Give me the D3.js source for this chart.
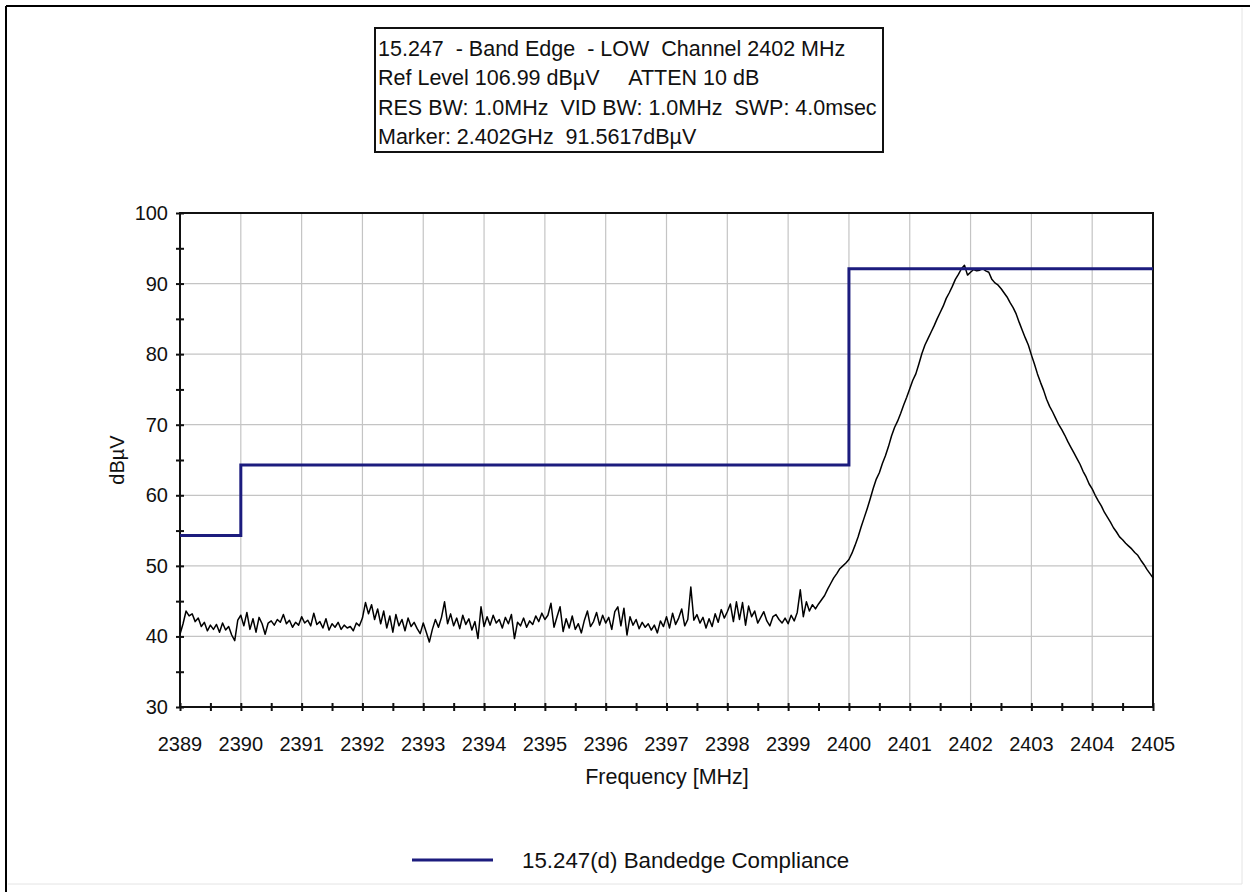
<!DOCTYPE html>
<html>
<head>
<meta charset="utf-8">
<script src="https://cdn.jsdelivr.net/npm/d3@7/dist/d3.min.js"></script>
<style>
  html, body { margin: 0; padding: 0; background: #fff; }
  svg { display: block; font-family: "Liberation Sans", Arial, sans-serif; }
</style>
</head>
<body>
<svg id="chart" width="1250" height="892"></svg>
<script>
// Analyzer header lines
const headerLines = [
  "15.247  - Band Edge  - LOW  Channel 2402 MHz",
  "Ref Level 106.99 dBµV     ATTEN 10 dB",
  "RES BW: 1.0MHz  VID BW: 1.0MHz  SWP: 4.0msec",
  "Marker: 2.402GHz  91.5617dBµV"
];

// Axis ticks
const xTicks = [2389, 2390, 2391, 2392, 2393, 2394, 2395, 2396, 2397, 2398, 2399, 2400, 2401, 2402, 2403, 2404, 2405];
const yTicks = [30, 40, 50, 60, 70, 80, 90, 100];

// Band-edge limit: [start MHz, end MHz, level dBµV]
const limitSegments = [
  [2389, 2390, 54.3],
  [2390, 2400, 64.3],
  [2400, 2405, 92.1]
];

// Sweep from 2389 to 2405 MHz, 321 evenly spaced points (dBµV)
const sweepStart = 2389;
const sweepStop = 2405;
const sweepLevels = [
  40.3, 41.8, 43.6, 42.9, 43.2, 42.1, 42.6, 41.4, 42.0, 40.8, 41.6, 41.0, 41.7, 40.6, 41.9, 40.9, 41.4, 40.2, 39.4, 42.3,
  43.0, 41.5, 43.4, 41.0, 42.5, 40.6, 42.7, 41.8, 40.3, 41.9, 42.2, 41.6, 42.4, 42.0, 43.1, 41.8, 42.3, 41.3, 42.0, 41.6,
  42.8, 41.9, 42.3, 41.5, 43.3, 41.7, 42.1, 41.2, 42.5, 40.9, 41.8, 41.3, 42.0, 41.0, 41.6, 41.2, 41.4, 40.8, 41.9, 41.5,
  42.6, 44.8, 43.2, 44.5, 42.4, 43.9, 41.8, 43.6, 41.2, 42.9, 40.6, 43.1, 41.5, 42.4, 40.8, 42.6, 41.4, 42.0, 41.1, 40.4,
  41.9, 40.6, 39.2, 41.0, 42.4, 41.3, 42.7, 44.9, 41.8, 43.2, 41.5, 42.6, 41.1, 43.0, 41.7, 42.5, 40.9, 42.1, 39.7, 44.2,
  41.4, 42.8, 41.6, 43.0, 41.9, 42.4, 41.2, 42.7, 41.8, 43.1, 39.7, 42.0, 41.5, 42.6, 41.3, 42.2, 41.7, 42.9, 42.1, 43.3,
  42.4, 43.0, 44.7, 41.3, 42.8, 44.2, 40.7, 42.5, 41.2, 42.9, 41.0, 41.8, 40.5, 42.3, 43.6, 41.4, 42.1, 43.4, 41.6, 43.0,
  41.9, 42.7, 41.0, 43.5, 44.2, 41.5, 44.0, 40.2, 42.8, 41.6, 42.4, 41.1, 42.0, 41.3, 41.8, 40.9, 41.6, 40.5, 42.2, 41.4,
  42.8, 41.2, 43.3, 41.7, 42.6, 43.9, 41.5, 42.4, 47.0, 42.3, 43.1, 41.9, 42.7, 41.2, 42.5, 41.4, 43.2, 42.0, 43.8, 42.6,
  43.5, 44.6, 42.1, 44.9, 42.4, 44.8, 41.6, 44.3, 42.8, 43.6, 41.9, 42.7, 43.5, 42.2, 41.5, 42.8, 43.1, 42.4, 41.9, 42.6,
  41.8, 43.0, 42.2, 43.4, 46.6, 42.8, 44.9, 43.6, 44.5, 43.9, 44.6,
  45.2, 45.8, 46.7, 47.5, 48.3, 48.9, 49.6, 50.0, 50.4,
  50.9, 51.8, 52.9, 54.1, 55.5, 56.8, 58.1, 59.5, 61.0, 62.3, 63.2, 64.5, 65.6, 66.9, 68.4, 69.6, 70.5, 71.6, 72.8, 73.9,
  75.1, 76.3, 77.2, 78.6, 80.1, 81.3, 82.2, 83.1, 84.0, 85.0, 85.9, 86.8, 87.9, 88.7, 89.6, 90.6, 91.3, 92.1, 92.6, 91.2,
  91.6, 92.0, 91.8, 91.9, 92.1, 91.8, 91.6, 90.6, 90.1, 89.8, 89.3, 88.7, 88.1, 87.3, 86.6, 85.7, 84.5, 83.4, 82.3, 81.3,
  79.9, 78.6, 77.2, 76.0, 74.9, 73.6, 72.6, 71.8, 70.9, 70.0, 69.3, 68.5, 67.6, 66.8, 66.0, 65.2, 64.4, 63.4, 62.6, 61.6,
  60.9, 60.0, 59.2, 58.5, 57.6, 56.9, 56.2, 55.4, 54.8, 54.1, 53.7, 53.2, 52.8, 52.4, 51.9, 51.5, 50.8, 50.2, 49.5, 48.9,
  48.3
];

const legendLabel = "15.247(d) Bandedge Compliance";
const xTitle = "Frequency [MHz]";
const yTitle = "dBµV";

const limitColor = "#1c1c7e";
const textColor = "#111";

const svg = d3.select("#chart");

// Window frame: dark top/left edges, light bottom/right edges
svg.append("line").attr("x1", 6).attr("y1", 6).attr("x2", 1250).attr("y2", 6)
  .attr("stroke", "#000").attr("stroke-width", 2);
svg.append("line").attr("x1", 6).attr("y1", 6).attr("x2", 6).attr("y2", 892)
  .attr("stroke", "#000").attr("stroke-width", 2);
svg.append("line").attr("x1", 1242).attr("y1", 8).attr("x2", 1242).attr("y2", 884)
  .attr("stroke", "#e4e4e4").attr("stroke-width", 1);
svg.append("line").attr("x1", 8).attr("y1", 884).attr("x2", 1242).attr("y2", 884)
  .attr("stroke", "#e4e4e4").attr("stroke-width", 1);

// Header box
const box = { x: 375, y: 28, w: 508, h: 124 };
svg.append("rect").attr("x", box.x).attr("y", box.y).attr("width", box.w).attr("height", box.h)
  .attr("fill", "#fff").attr("stroke", "#111").attr("stroke-width", 2);
svg.append("g").selectAll("text").data(headerLines).join("text")
  .attr("x", box.x + 3)
  .attr("y", (d, i) => box.y + 28 + i * 29.3)
  .attr("font-size", 21.5)
  .attr("fill", textColor)
  .style("white-space", "pre")
  .attr("xml:space", "preserve")
  .text(d => d);

// Plot area
const plot = { left: 180, right: 1153, top: 213, bottom: 707 };

const x = d3.scaleLinear().domain([sweepStart, sweepStop]).range([plot.left, plot.right]);
const y = d3.scaleLinear().domain([30, 100]).range([plot.bottom, plot.top]);

// Grid
const grid = svg.append("g").attr("stroke", "#c4c4c4").attr("stroke-width", 1.2);
grid.selectAll(".gx").data(xTicks.slice(1, -1)).join("line")
  .attr("x1", d => x(d)).attr("x2", d => x(d))
  .attr("y1", plot.top).attr("y2", plot.bottom);
grid.selectAll(".gy").data(yTicks.slice(1, -1)).join("line")
  .attr("x1", plot.left).attr("x2", plot.right)
  .attr("y1", d => y(d)).attr("y2", d => y(d));

// Plot frame
svg.append("rect")
  .attr("x", plot.left).attr("y", plot.top)
  .attr("width", plot.right - plot.left).attr("height", plot.bottom - plot.top)
  .attr("fill", "none").attr("stroke", "#111").attr("stroke-width", 2);

// Axes with ticks crossing the frame line
const yMinor = d3.range(30, 100.1, 5);
const xMinor = d3.range(sweepStart, sweepStop + 0.01, 0.5);

const yAxis = svg.append("g").attr("transform", `translate(${plot.left + 4},0)`)
  .call(d3.axisLeft(y).tickValues(yMinor).tickSize(8).tickFormat(""));
yAxis.select(".domain").remove();
yAxis.selectAll(".tick line").attr("stroke", "#111").attr("stroke-width", 2);

const xAxis = svg.append("g").attr("transform", `translate(0,${plot.bottom - 4})`)
  .call(d3.axisBottom(x).tickValues(xMinor).tickSize(8).tickFormat(""));
xAxis.select(".domain").remove();
xAxis.selectAll(".tick line").attr("stroke", "#111").attr("stroke-width", 2);

// Tick labels
svg.append("g").selectAll("text").data(yTicks).join("text")
  .attr("x", plot.left - 12)
  .attr("y", d => y(d))
  .attr("dy", "0.35em")
  .attr("text-anchor", "end")
  .attr("font-size", 20)
  .attr("fill", textColor)
  .text(d => d);

svg.append("g").selectAll("text").data(xTicks).join("text")
  .attr("x", d => x(d))
  .attr("y", plot.bottom + 37)
  .attr("dy", "0.35em")
  .attr("text-anchor", "middle")
  .attr("font-size", 20)
  .attr("fill", textColor)
  .text(d => d);

// Axis titles
svg.append("text")
  .attr("x", 667).attr("y", 776).attr("dy", "0.35em")
  .attr("text-anchor", "middle").attr("font-size", 21.5).attr("fill", textColor)
  .text(xTitle);
svg.append("text")
  .attr("transform", "translate(117,460) rotate(-90)")
  .attr("dy", "0.35em")
  .attr("text-anchor", "middle").attr("font-size", 20).attr("fill", textColor)
  .text(yTitle);

// Measured sweep
const sweep = sweepLevels.map((v, i) => [sweepStart + i * (sweepStop - sweepStart) / (sweepLevels.length - 1), v]);
svg.append("path")
  .datum(sweep)
  .attr("fill", "none")
  .attr("stroke", "#000")
  .attr("stroke-width", 1.5)
  .attr("stroke-linejoin", "round")
  .attr("d", d3.line().x(d => x(d[0])).y(d => y(d[1])));

// Limit line as a step trace
const limitPts = [];
limitSegments.forEach(s => { limitPts.push([s[0], s[2]]); limitPts.push([s[1], s[2]]); });
svg.append("path")
  .datum(limitPts)
  .attr("fill", "none")
  .attr("stroke", limitColor)
  .attr("stroke-width", 3)
  .attr("d", d3.line().x(d => x(d[0])).y(d => y(d[1])));

// Legend
svg.append("line")
  .attr("x1", 412).attr("x2", 493).attr("y1", 860).attr("y2", 860)
  .attr("stroke", limitColor).attr("stroke-width", 3);
svg.append("text")
  .attr("x", 522).attr("y", 860).attr("dy", "0.35em")
  .attr("font-size", 22.3).attr("fill", textColor)
  .text(legendLabel);
</script>
</body>
</html>
